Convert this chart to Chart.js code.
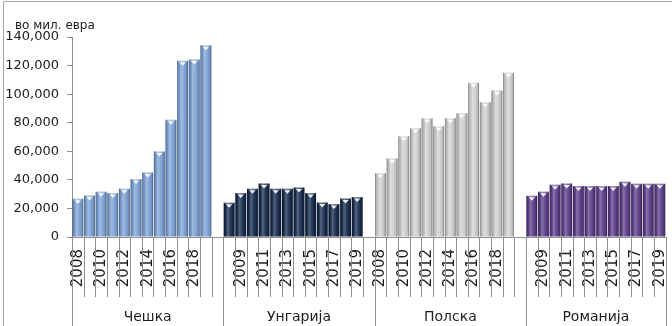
<!DOCTYPE html>
<html>
<head>
<meta charset="utf-8">
<script src="https://cdn.jsdelivr.net/npm/chart.js@4/dist/chart.umd.min.js"></script>
<style>
  html, body { margin: 0; padding: 0; background: #fff; overflow: hidden; width: 672px; height: 326px; }
  #wrap { position: relative; width: 690px; height: 326px; }
  canvas { display: block; }
</style>
</head>
<body>
<div id="wrap"><canvas id="c" width="690" height="326"></canvas></div>
<script>
// Countries and years (values in millions of euros)
const groups = ['Чешка', 'Унгарија', 'Полска', 'Романија'];
const years = ['2008', '2009', '2010', '2011', '2012', '2013', '2014', '2015', '2016', '2017', '2018', '2019'];

const czech   = [26800, 29100, 31700, 30800, 33800, 40600, 45200, 59900, 82000, 123300, 124200, 134300];
const hungary = [24000, 30800, 33800, 37500, 33800, 33800, 34700, 30800, 24200, 23100, 27000, 28000];
const poland  = [44800, 55000, 70600, 76200, 83200, 77600, 83200, 86700, 107900, 94400, 102600, 114900];
const romania = [28900, 31700, 36600, 37500, 35700, 35700, 35700, 35700, 38700, 37300, 37300, 37300];

const yTicks = { min: 0, max: 140000, step: 20000 };
const unitLabel = 'во мил. евра';

// Bar base colours, one per country
const barColors = ['#7da2d6', '#14294b', '#d0d0d0', '#5a3c88'];

const series = [czech, hungary, poland, romania];

// One continuous category axis: each country gets its years plus a spacer slot
// (the last country has no trailing spacer)
const labels = [];
const groupStart = [];
groups.forEach((g, gi) => {
  groupStart.push(labels.length);
  years.forEach(y => labels.push(y));
  if (gi < groups.length - 1) labels.push('');
});
groupStart.push(labels.length);

const datasets = series.map((vals, gi) => {
  const data = labels.map(() => null);
  vals.forEach((v, k) => { data[groupStart[gi] + k] = v; });
  return {
    label: groups[gi],
    data,
    backgroundColor: barColors[gi],
    borderWidth: 0,
    grouped: false,
    barPercentage: 0.93,
    categoryPercentage: 1.0
  };
});

const FONT = "'DejaVu Sans', Verdana, sans-serif";
const TEXT = '#1c1c1c';
const LINE = '#8e8e8e';

// Cylinder-like shading and the small white notch on top of each bar
const bevelPlugin = {
  id: 'bevel',
  afterDatasetsDraw(chart) {
    const ctx = chart.ctx;
    chart.data.datasets.forEach((ds, di) => {
      const meta = chart.getDatasetMeta(di);
      meta.data.forEach((bar, i) => {
        if (ds.data[i] == null) return;
        const { x, y, base, width } = bar.getProps(['x', 'y', 'base', 'width'], true);
        const l = x - width / 2, r = x + width / 2, h = base - y;
        ctx.save();
        const g = ctx.createLinearGradient(l, 0, r, 0);
        g.addColorStop(0, 'rgba(0,0,0,0.45)');
        g.addColorStop(0.12, 'rgba(0,0,0,0.10)');
        g.addColorStop(0.35, 'rgba(255,255,255,0.28)');
        g.addColorStop(0.6, 'rgba(255,255,255,0.10)');
        g.addColorStop(0.85, 'rgba(0,0,0,0.08)');
        g.addColorStop(1, 'rgba(0,0,0,0.45)');
        ctx.fillStyle = g;
        ctx.fillRect(l, y, width, h);
        // light rim along the top
        ctx.fillStyle = 'rgba(255,255,255,0.35)';
        ctx.fillRect(l + 1, y, width - 2, 1);
        // downward notch
        ctx.beginPath();
        ctx.moveTo(x - 3.2, y + 1.5);
        ctx.lineTo(x + 3.2, y + 1.5);
        ctx.lineTo(x, y + 5);
        ctx.closePath();
        ctx.fillStyle = 'rgba(255,255,255,0.9)';
        ctx.fill();
        ctx.restore();
      });
    });
  }
};

// Frame, unit caption, category separators and country captions
const framePlugin = {
  id: 'frame',
  afterDraw(chart) {
    const ctx = chart.ctx;
    const xs = chart.scales.x;
    const bottom = chart.chartArea.bottom;
    const step = xs.getPixelForValue(1) - xs.getPixelForValue(0);
    const edge = i => xs.getPixelForValue(i) - step / 2;
    ctx.save();

    // outer frame
    ctx.strokeStyle = '#a8a8a8';
    ctx.lineWidth = 1;
    ctx.beginPath();
    ctx.moveTo(3.5, chart.height);
    ctx.lineTo(3.5, 1.5);
    ctx.lineTo(chart.width, 1.5);
    ctx.stroke();

    // unit caption
    ctx.fillStyle = TEXT;
    ctx.font = '12px ' + FONT;
    ctx.textAlign = 'left';
    ctx.textBaseline = 'alphabetic';
    ctx.fillText(unitLabel, 15, 29);

    // separators between categories, longer ones between countries
    ctx.strokeStyle = LINE;
    for (let i = 0; i <= labels.length; i++) {
      const px = Math.round(edge(i)) + 0.5;
      const isGroupEdge = groupStart.includes(i);
      ctx.beginPath();
      ctx.moveTo(px, bottom);
      ctx.lineTo(px, isGroupEdge ? chart.height : 297);
      ctx.stroke();
    }

    // country captions
    ctx.font = '14px ' + FONT;
    ctx.textAlign = 'center';
    ctx.textBaseline = 'middle';
    groups.forEach((g, gi) => {
      const cx = (edge(groupStart[gi]) + edge(groupStart[gi + 1])) / 2;
      ctx.fillText(g, cx, 317);
    });
    ctx.restore();
  }
};

new Chart(document.getElementById('c'), {
  type: 'bar',
  data: { labels, datasets },
  options: {
    responsive: false,
    animation: false,
    devicePixelRatio: 1,
    layout: { padding: { top: 37, right: 14, left: 0, bottom: 0 } },
    plugins: { legend: { display: false }, tooltip: { enabled: false }, title: { display: false } },
    scales: {
      x: {
        type: 'category',
        offset: true,
        grid: { display: false, drawTicks: false },
        border: { display: true, color: LINE, width: 1 },
        ticks: {
          autoSkip: false,
          minRotation: 90,
          maxRotation: 90,
          padding: 12,
          color: TEXT,
          font: { family: FONT, size: 15 },
          callback: (v, i) => (i % 2 === 0 ? labels[i] : '')
        },
        afterFit: s => { s.height = 89; }
      },
      y: {
        min: yTicks.min,
        max: yTicks.max,
        grid: { display: true, drawOnChartArea: false, drawTicks: true, tickLength: 5, color: LINE },
        border: { display: true, color: LINE, width: 1 },
        ticks: {
          stepSize: yTicks.step,
          padding: 8,
          color: TEXT,
          font: { family: FONT, size: 13 },
          callback: v => v.toLocaleString('en-US')
        },
        afterFit: s => { s.width = 72; }
      }
    }
  },
  plugins: [bevelPlugin, framePlugin]
});
</script>
</body>
</html>
